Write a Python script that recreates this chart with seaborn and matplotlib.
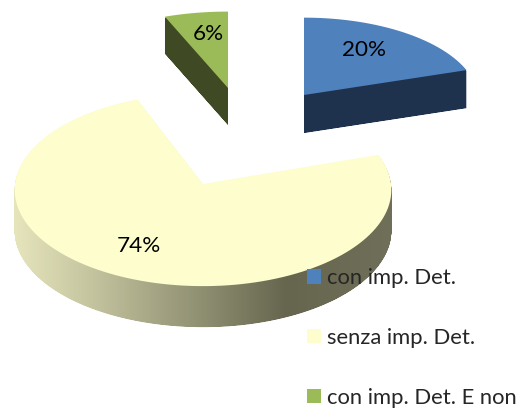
import numpy as np
import seaborn as sns
import matplotlib.pyplot as plt
from matplotlib.colors import LinearSegmentedColormap
from matplotlib.patches import Patch, PathPatch
from matplotlib.path import Path
from matplotlib.transforms import Affine2D

categories = ['con imp. Det.', 'senza imp. Det.', 'con imp. Det. E non']
shares = [20, 74, 6]
top_colors = ['#4F81BD', '#FEFDCD', '#9BBB59']
side_colors = ['#1F324D', None, '#3F4A24']

# where each exploded slice lands on the canvas (pixels)
centers = [(304, 95), (203, 184), (228, 88)]
radii = [(174, 82), (188, 96), (181, 81)]
depths = [38, 41, 37]
label_pos = [(364, 50.5), (139, 246.5), (208.5, 34)]
tilt = 0.06

sns.set_theme(style='white')
plt.rcParams['font.family'] = ['Lato', 'DejaVu Sans']

fig = plt.figure(figsize=(5.28, 4.08), dpi=100)
ax = fig.add_axes([0, 0, 1, 1])
wedges, _ = ax.pie(shares, startangle=90, counterclock=False, colors=top_colors)
ax.set_aspect('auto')
ax.set_xlim(0, 528)
ax.set_ylim(408, 0)
ax.axis('off')

side_cmap = LinearSegmentedColormap.from_list(
    'side', [(0, '#E6E5BC'), (0.2, '#C5C5A0'), (0.72, '#66664F'), (1, '#70705A')])


def project(wedge, center, radius):
    # flatten the unit wedge and tip it back with a little perspective
    poly = wedge.get_path().to_polygons(Affine2D().scale(300), closed_only=True)[0] / 300
    w = 1 + tilt * poly[:, 1]
    return np.column_stack([center[0] + radius[0] * poly[:, 0] / w,
                            center[1] - radius[1] * poly[:, 1] / w])


for i, wedge in enumerate(wedges):
    wedge.set_visible(False)
    top = project(wedge, centers[i], radii[i])

    # start a pixel down so the side never peeks out around the top face
    layers = [Path(top + [0, d]) for d in np.arange(1, depths[i] + 0.5, 0.5)]
    side = PathPatch(Path.make_compound_path(*layers), lw=0, zorder=2 + i * 2,
                     facecolor=side_colors[i] or 'none')
    ax.add_patch(side)
    if side_colors[i] is None:
        shade = ax.imshow(np.linspace(0, 1, 256)[None, :], cmap=side_cmap, aspect='auto',
                          extent=(13, 393, 408, 0), zorder=2 + i * 2)
        shade.set_clip_path(side)
        ax.set_xlim(0, 528)
        ax.set_ylim(408, 0)

    ax.add_patch(PathPatch(Path(top), facecolor=top_colors[i], lw=0, zorder=3 + i * 2))
    ax.text(*label_pos[i], f'{shares[i]}%', fontsize=16.2, color='black',
            ha='center', va='center', zorder=10)

handles = [Patch(facecolor=c, lw=0) for c in top_colors]
ax.legend(handles, categories, loc='upper left', bbox_to_anchor=(307 / 528, 1 - 268 / 408),
          frameon=False, fontsize=15.8, handlelength=0.64, handleheight=0.64,
          handletextpad=0.28, labelspacing=1.82, borderpad=0, borderaxespad=0
          ).set_zorder(20)

fig.savefig('out.png', dpi=100)
